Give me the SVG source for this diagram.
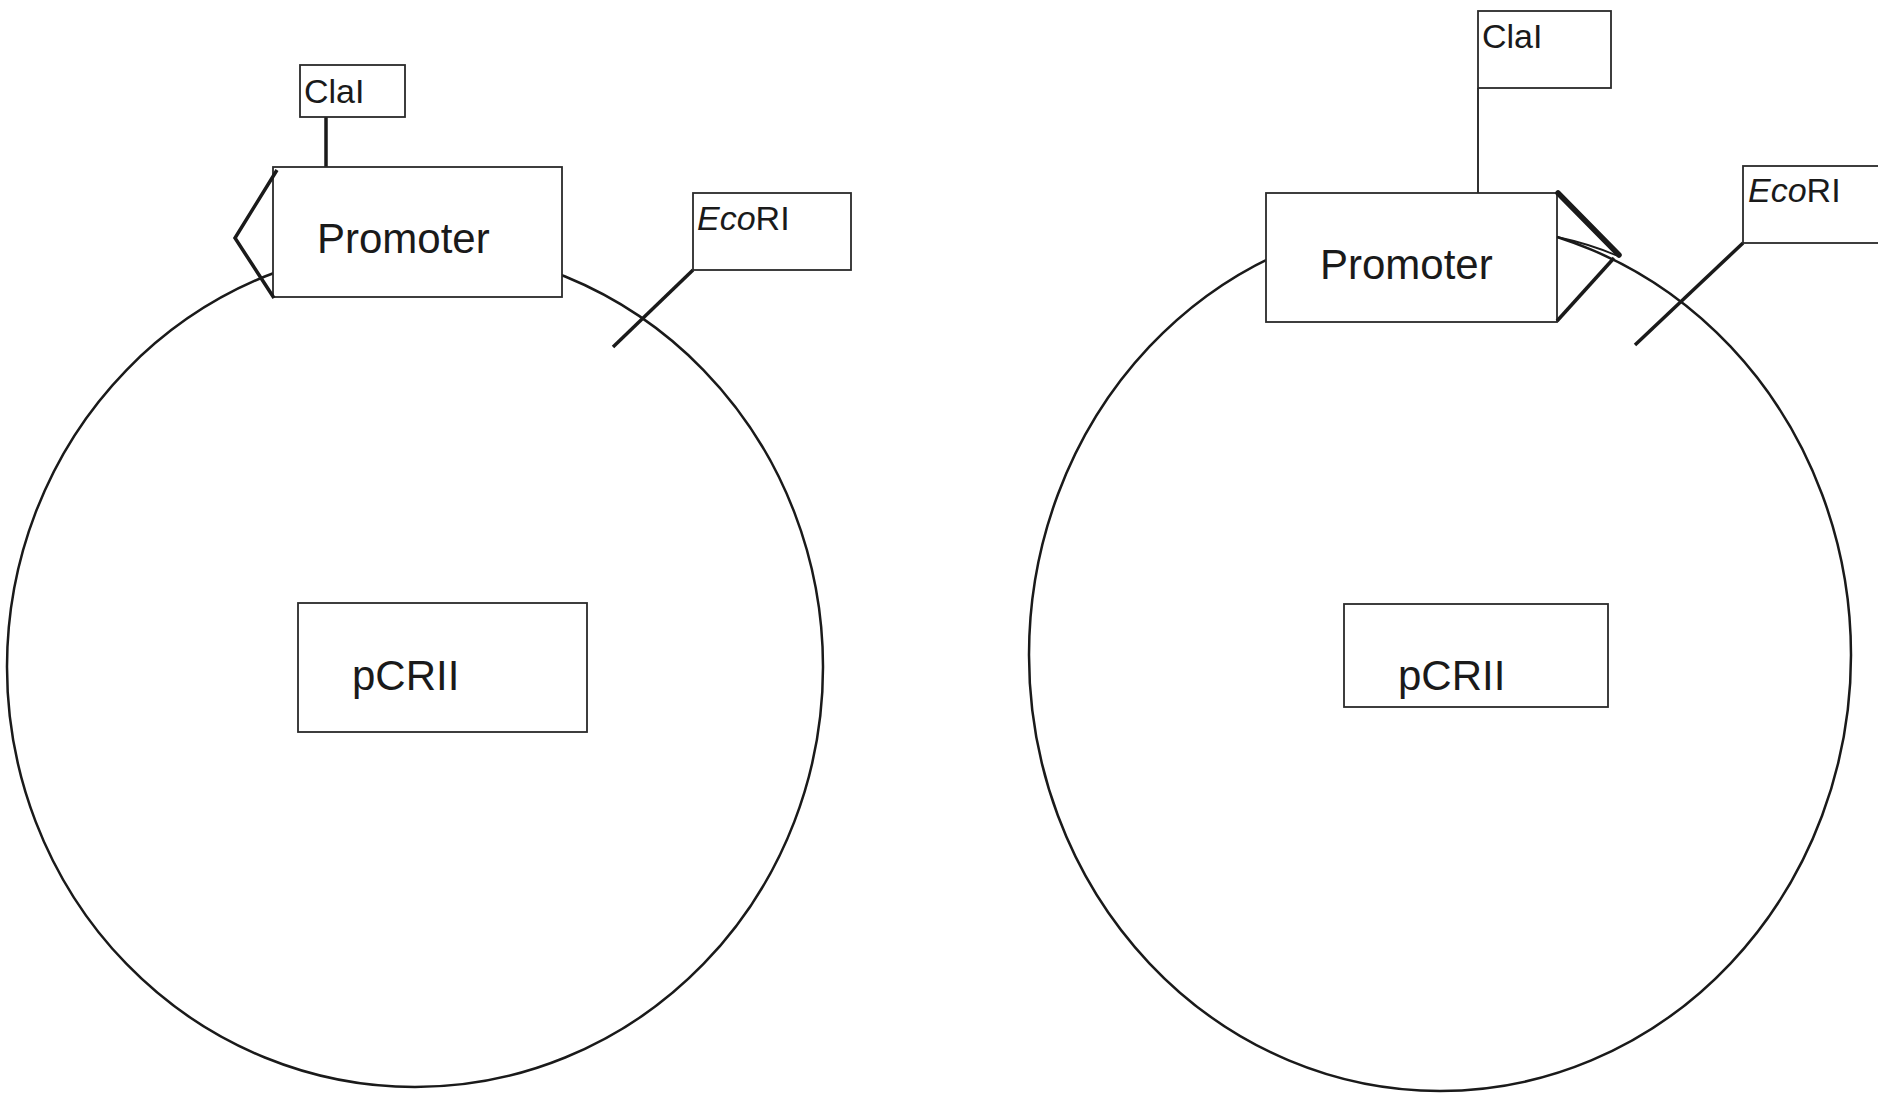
<svg xmlns="http://www.w3.org/2000/svg" width="1878" height="1094" viewBox="0 0 1878 1094">
<style>
.bg{fill:#fff}
.ring{fill:none;stroke:#1a1a1a;stroke-width:2.5}
.box{fill:#fff;stroke:#2a2a2a;stroke-width:1.8}
.lbl{font-family:"Liberation Sans",Arial,sans-serif;fill:#1a1a1a}
.big{font-size:42px}
.small{font-size:34px}
.thick{fill:none;stroke:#1a1a1a;stroke-width:3.5;stroke-linejoin:miter}
.heavy{fill:none;stroke:#1a1a1a;stroke-width:5.5;stroke-linecap:round}
.thin{fill:none;stroke:#1a1a1a;stroke-width:1.8}
</style>
<rect class="bg" width="1878" height="1094"/>

<!-- left plasmid -->
<g id="plasmid-left">
  <ellipse class="ring" cx="415" cy="667" rx="408" ry="420"/>
</g>
<g id="connectors">
  <line class="thick" x1="326" y1="117" x2="326" y2="168"/>
  <line class="thick" x1="693" y1="270" x2="613" y2="347"/>
  <line class="thin" x1="1478" y1="88" x2="1478" y2="193"/>
  <line class="thick" x1="1743" y1="243" x2="1635" y2="345"/>
</g>
<g id="promoter-left">
  <rect class="box" x="273" y="167" width="289" height="130"/>
  <polyline class="thick" points="277,170 235,238 274,298"/>
  <text class="lbl big" x="317" y="253">Promoter</text>
</g>
<g id="clai-left">
  <rect class="box" x="300" y="65" width="105" height="52"/>
  <text class="lbl small" x="304" y="103">ClaI</text>
</g>
<g id="ecori-left">
  <rect class="box" x="693" y="193" width="158" height="77"/>
  <text class="lbl small" x="697" y="230"><tspan font-style="italic">Eco</tspan>RI</text>
</g>
<g id="pcrii-left">
  <rect class="box" x="298" y="603" width="289" height="129"/>
  <text class="lbl big" x="352" y="690">pCRII</text>
</g>

<!-- right plasmid -->
<g id="plasmid-right">
  <ellipse class="ring" cx="1440" cy="655" rx="411" ry="436"/>
</g>
<g id="promoter-right">
  <rect class="box" x="1266" y="193" width="291" height="129"/>
  <path class="thin" d="M1557,237 Q1590,244 1618,256"/>
  <line class="heavy" x1="1558" y1="193" x2="1619" y2="255"/>
  <line class="thick" x1="1614" y1="258" x2="1557" y2="321"/>
  <text class="lbl big" x="1320" y="279">Promoter</text>
</g>
<g id="clai-right">
  <rect class="box" x="1478" y="11" width="133" height="77"/>
  <text class="lbl small" x="1482" y="48">ClaI</text>
</g>
<g id="ecori-right">
  <rect class="box" x="1743" y="166" width="150" height="77"/>
  <text class="lbl small" x="1748" y="202"><tspan font-style="italic">Eco</tspan>RI</text>
</g>
<g id="pcrii-right">
  <rect class="box" x="1344" y="604" width="264" height="103"/>
  <text class="lbl big" x="1398" y="690">pCRII</text>
</g>
</svg>
